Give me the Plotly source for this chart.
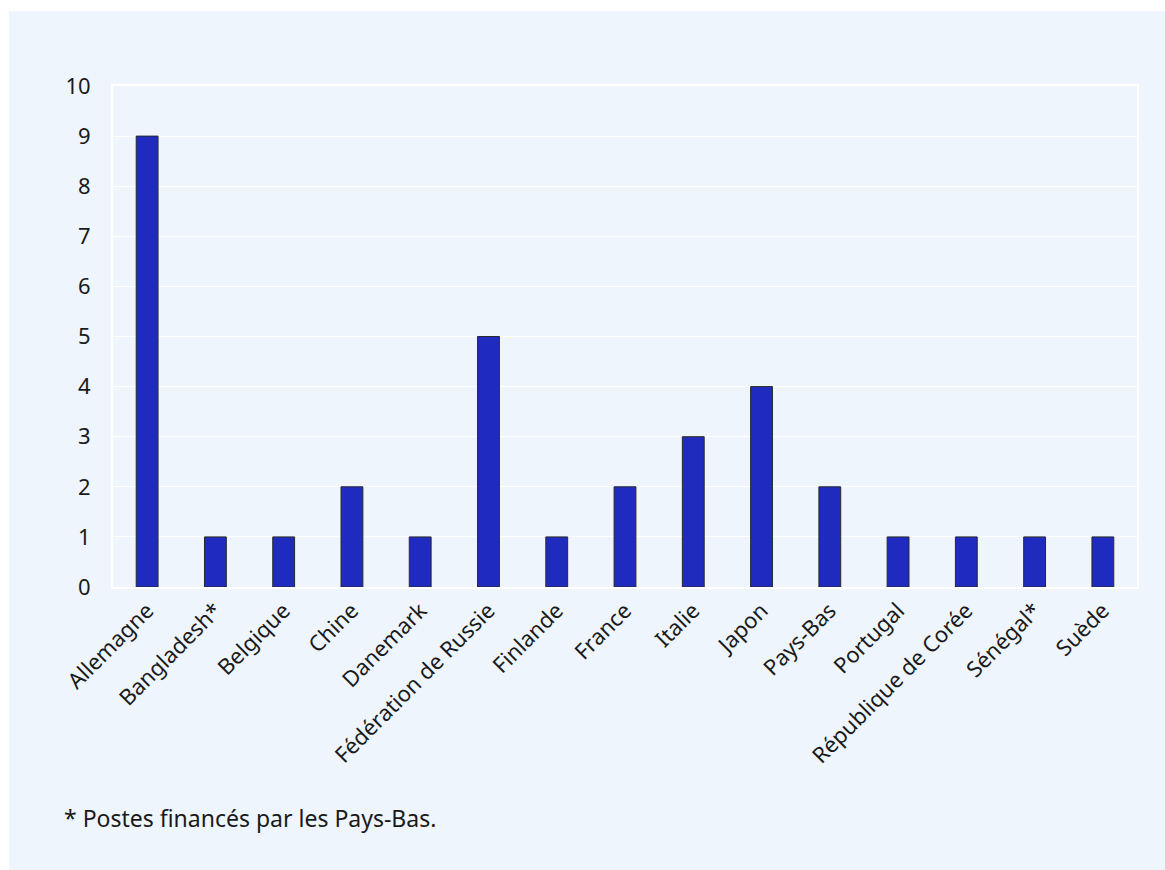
import plotly.graph_objects as go

# Postes par pays
pays = [
    "Allemagne", "Bangladesh*", "Belgique", "Chine", "Danemark",
    "Fédération de Russie", "Finlande", "France", "Italie", "Japon",
    "Pays-Bas", "Portugal", "République de Corée", "Sénégal*", "Suède",
]
postes = [9, 1, 1, 2, 1, 5, 1, 2, 3, 4, 2, 1, 1, 1, 1]
y_ticks = list(range(0, 11))
note = "* Postes financés par les Pays-Bas."

W, H = 1165, 870
ML, MR, MT, MB = 113, 28, 86, 283
PANEL = "#EEF5FC"
BAR = "#1F2BBF"
FONT = "Noto Sans"

pw = W - ML - MR
ph = H - MT - MB

def px_x(x):
    return (x - ML) / pw

def px_y(y):
    return (H - MB - y) / ph

fig = go.Figure(
    go.Bar(
        x=pays,
        y=postes,
        marker=dict(color=BAR, line=dict(color="#2a2a2a", width=1)),
        hoverinfo="x+y",
    )
)

fig.update_layout(
    width=W,
    height=H,
    margin=dict(l=ML, r=MR, t=MT, b=MB),
    paper_bgcolor="white",
    plot_bgcolor="rgba(0,0,0,0)",
    bargap=0.68,
    showlegend=False,
    font=dict(family=FONT, size=22, color="#1a1a1a"),
    shapes=[
        dict(
            type="rect", xref="paper", yref="paper", layer="below",
            x0=px_x(9), x1=px_x(W + 5), y0=px_y(H + 5), y1=px_y(11),
            fillcolor=PANEL, line=dict(width=0),
        )
    ],
    annotations=[
        dict(
            text=note, xref="paper", yref="paper",
            x=px_x(62), y=px_y(818), xanchor="left", yanchor="middle",
            showarrow=False, font=dict(family=FONT, size=23, color="#1a1a1a"),
        )
    ],
)

fig.update_xaxes(
    tickangle=-45,
    showline=True, linecolor="white", linewidth=2, mirror=True,
    showgrid=False, ticks="", tickfont=dict(size=22),
)
fig.update_yaxes(
    range=[0, 10], tickvals=y_ticks,
    showline=True, linecolor="white", linewidth=2, mirror=True,
    showgrid=True, gridcolor="white", gridwidth=1,
    zeroline=False, ticks="", ticklen=0, tickfont=dict(size=22),
    ticklabelstandoff=16,
)

fig.write_html("out.html")
